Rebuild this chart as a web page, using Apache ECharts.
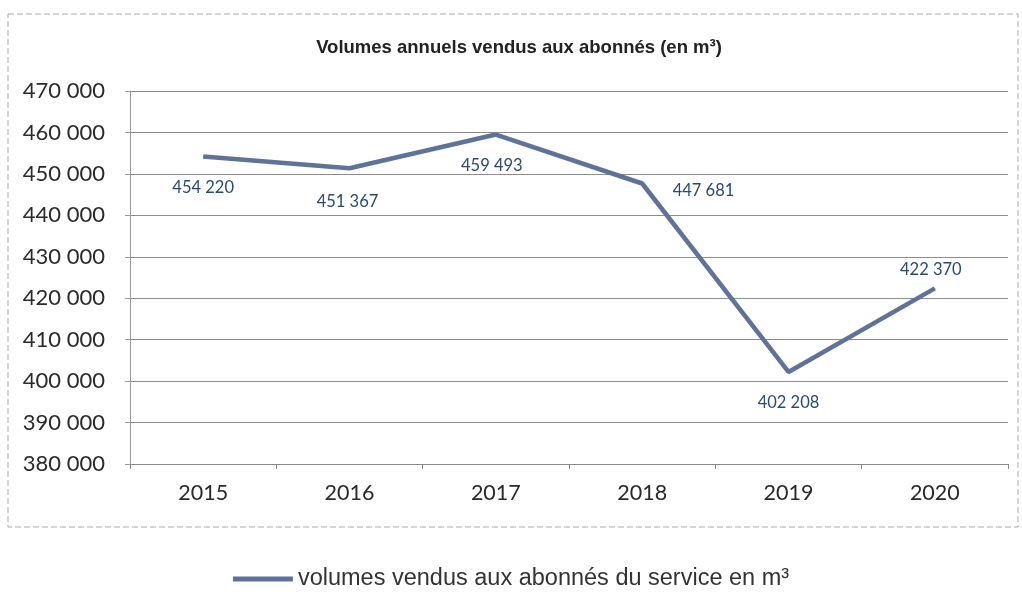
<!DOCTYPE html>
<html><head><meta charset="utf-8">
<script src="https://cdn.jsdelivr.net/npm/echarts@6/dist/echarts.min.js"></script>
<style>html,body{margin:0;padding:0;background:#fff}#c{width:1022px;height:594px}</style>
</head><body><div id="c"></div>
<script>
const categories = ['2015','2016','2017','2018','2019','2020'];
const volumes = [454220, 451367, 459493, 447681, 402208, 422370];
const seriesName = 'volumes vendus aux abonnés du service en m³';
const titleText = 'Volumes annuels vendus aux abonnés (en m³)';

const labelCfg = [
  {position:'bottom', distance:22, offset:[0,0]},
  {position:'bottom', distance:24, offset:[-2,0]},
  {position:'bottom', distance:22, offset:[-4,0]},
  {position:'right', distance:30, offset:[0,7]},
  {position:'bottom', distance:22, offset:[0,0]},
  {position:'top', distance:10, offset:[-4,0]}
];
const fmt = v => String(v).replace(/\B(?=(\d{3})+(?!\d))/g, ' ');

const chart = echarts.init(document.getElementById('c'));
chart.setOption({
  backgroundColor:'#fff',
  animation:false,
  title:{text:titleText,left:514,top:33,textAlign:'center',
    textStyle:{fontFamily:'Liberation Sans, Arial',fontWeight:'bold',fontSize:18.5,color:'#222'}},
  legend:{bottom:-2,left:'center',itemWidth:60,itemHeight:5,icon:'rect',itemGap:10,
    textStyle:{fontFamily:'Liberation Sans, Arial',fontSize:23.5,color:'#333'},
    data:[seriesName]},
  graphic:[{type:'rect',shape:{x:8,y:14,width:1010,height:513},
    style:{fill:'none',stroke:'#aaa',lineWidth:1,lineDash:[6,3]},silent:true}],
  grid:{left:130,right:14,top:91,bottom:130},
  xAxis:{type:'category',data:categories,boundaryGap:true,
    axisLine:{lineStyle:{color:'#888'}},
    axisTick:{show:true,length:5,lineStyle:{color:'#888'}},
    axisLabel:{fontFamily:'Lato',fontSize:21.5,color:'#2a2a2a',margin:18}},
  yAxis:{type:'value',min:380000,max:470000,interval:10000,
    axisLine:{show:true,lineStyle:{color:'#999'}},
    axisTick:{show:true,length:5,lineStyle:{color:'#999'}},
    splitLine:{lineStyle:{color:'#8c8c8c',width:1}},
    axisLabel:{fontFamily:'Lato',fontSize:22,color:'#2a2a2a',margin:25,formatter:fmt}},
  series:[{name:seriesName,type:'line',showSymbol:true,symbol:'circle',symbolSize:1,
    lineStyle:{color:'#5f7299',width:4.5},itemStyle:{color:'#5f7299'},
    data:volumes.map((v,i)=>({value:v,label:{show:true,position:labelCfg[i].position,distance:labelCfg[i].distance,offset:labelCfg[i].offset}})),
    label:{show:true,fontFamily:'Lato',fontSize:16.5,color:'#2b4a73',formatter:p=>fmt(p.value)}}]
});
</script></body></html>
